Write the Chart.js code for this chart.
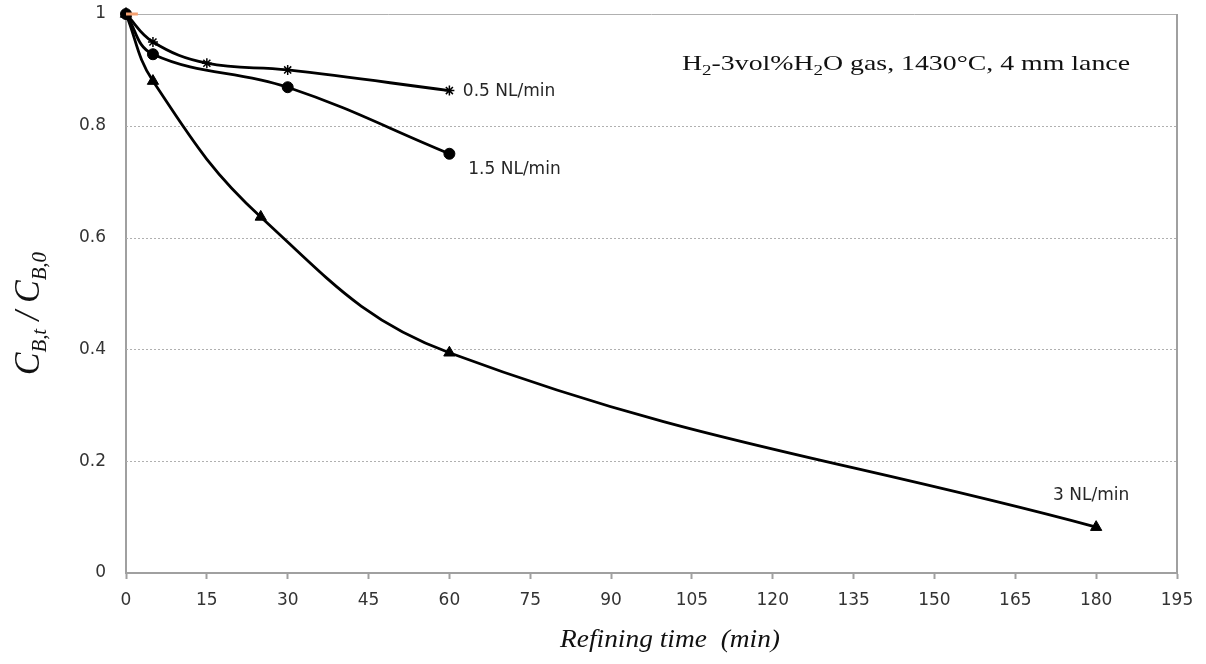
<!DOCTYPE html>
<html><head><meta charset="utf-8">
<script src="https://cdn.jsdelivr.net/npm/chart.js@4.4.1/dist/chart.umd.min.js"></script>
<style>html,body{margin:0;padding:0;background:#fff}#wrap{width:1206px;height:664px}</style>
</head><body><div id="wrap"><canvas id="c" width="1206" height="664"></canvas></div>
<script>
const timeLow = [0, 5, 15, 30, 60];
const valLow = [1, 0.95, 0.912, 0.90, 0.863];
const timeMid = [0, 5, 30, 60];
const valMid = [1, 0.928, 0.869, 0.75];
const timeHigh = [0, 5, 25, 60, 180];
const valHigh = [1, 0.88, 0.637, 0.394, 0.082];
const timeOrange = [0, 2.2];
const valOrange = [1, 1];
const seriesLabels = ['0.5 NL/min', '1.5 NL/min', '3 NL/min'];
const labelAnchors = [[62.5, 0.862], [63.5, 0.722], [172, 0.138]];
const xTicks = [0,15,30,45,60,75,90,105,120,135,150,165,180,195];
const yTicks = [0,0.2,0.4,0.6,0.8,1];

const pts = (xs, ys) => xs.map((x, i) => ({x, y: ys[i]}));
const tickFont = {family: 'DejaVu Sans', size: 17};
const serif = '"Liberation Serif"';

function drawRuns(ctx, runs, big, small, subDy, style, targetW) {
  const f = s => (style ? style + ' ' : '') + (s ? small : big) + 'px ' + serif;
  let w = 0;
  runs.forEach(([t, s]) => { ctx.font = f(s); w += ctx.measureText(t).width; });
  const k = targetW / w;
  ctx.scale(k, 1);
  let x = 0;
  runs.forEach(([t, s]) => { ctx.font = f(s); ctx.fillText(t, x, s ? subDy : 0); x += ctx.measureText(t).width; });
}

const deco = {
  id: 'deco',
  beforeDatasetsDraw(chart) {
    const {ctx, chartArea: a, scales: {x, y}} = chart;
    ctx.save();
    ctx.strokeStyle = '#b0b0b0';
    ctx.lineWidth = 1;
    yTicks.forEach(v => {
      if (v === 0) return;
      const py = Math.round(y.getPixelForValue(v)) + 0.5;
      ctx.setLineDash(v === 1 ? [] : [2, 2]);
      ctx.beginPath(); ctx.moveTo(a.left, py); ctx.lineTo(a.right, py); ctx.stroke();
    });
    ctx.setLineDash([]);
    ctx.strokeStyle = '#a0a0a0';
    ctx.lineWidth = 2;
    ctx.beginPath(); ctx.moveTo(a.right, a.top); ctx.lineTo(a.right, a.bottom); ctx.stroke();
    ctx.restore();
  },
  afterDatasetsDraw(chart) {
    const {ctx, scales: {x, y}} = chart;
    ctx.save();
    ctx.fillStyle = '#262626';
    ctx.font = '17px "DejaVu Sans"';
    ctx.textBaseline = 'middle';
    ctx.textAlign = 'left';
    seriesLabels.forEach((t, i) => {
      ctx.fillText(t, x.getPixelForValue(labelAnchors[i][0]), y.getPixelForValue(labelAnchors[i][1]));
    });
    ctx.textBaseline = 'alphabetic';
    ctx.fillStyle = '#111';
    ctx.save();
    ctx.translate(682, 70);
    drawRuns(ctx, [['H', 0], ['2', 1], ['-3vol%H', 0], ['2', 1], ['O gas, 1430°C, 4 mm lance', 0]], 22, 15, 5, '', 448);
    ctx.restore();
    ctx.save();
    ctx.translate(560, 647);
    drawRuns(ctx, [['Refining time  (min)', 0]], 26, 26, 0, 'italic', 220);
    ctx.restore();
    ctx.save();
    ctx.translate(39, 375);
    ctx.rotate(-Math.PI / 2);
    ctx.scale(1, 1.2);
    drawRuns(ctx, [['C', 0], ['B,t', 1], [' / C', 0], ['B,0', 1]], 29, 18, 6, 'italic', 123);
    ctx.restore();
    ctx.restore();
  }
};

const lineDs = (data, style, radius) => ({
  data, borderColor: '#000', backgroundColor: '#000', borderWidth: 2.8,
  pointStyle: style, pointRadius: radius, pointBorderColor: '#000', pointBackgroundColor: '#000',
  pointBorderWidth: style === 'star' ? 1.5 : 1, tension: 0.4, showLine: true, clip: false
});

new Chart(document.getElementById('c'), {
  type: 'scatter',
  data: {
    datasets: [
      {data: pts(timeOrange, valOrange), borderColor: '#f4a070', borderWidth: 3, pointRadius: 0, showLine: true, clip: false},
      lineDs(pts(timeLow, valLow), 'star', 5),
      lineDs(pts(timeMid, valMid), 'circle', 5.5),
      lineDs(pts(timeHigh, valHigh), 'triangle', 6.5)
    ]
  },
  plugins: [deco],
  options: {
    responsive: false, animation: false,
    layout: {padding: {top: 14, right: 29, left: 0, bottom: 0}},
    plugins: {legend: {display: false}, tooltip: {enabled: false}},
    scales: {
      x: {
        type: 'linear', min: 0, max: 195,
        afterBuildTicks: s => { s.ticks = xTicks.map(v => ({value: v})); },
        afterFit: s => { s.height = 91; s.paddingLeft = 0; s.paddingRight = 0; },
        grid: {drawOnChartArea: false, drawTicks: true, tickLength: 6, color: '#a0a0a0', tickColor: '#a0a0a0', tickWidth: 2},
        border: {color: '#a0a0a0', width: 2},
        ticks: {font: tickFont, color: '#333', padding: 11, maxRotation: 0, autoSkip: false}
      },
      y: {
        type: 'linear', min: 0, max: 1,
        afterBuildTicks: s => { s.ticks = yTicks.map(v => ({value: v})); },
        afterFit: s => { s.width = 126; s.paddingTop = 0; s.paddingBottom = 0; },
        grid: {display: false, drawTicks: false},
        border: {color: '#a0a0a0', width: 2},
        ticks: {font: tickFont, color: '#333', padding: 20, callback: v => String(v)}
      }
    }
  }
});
</script></body></html>
